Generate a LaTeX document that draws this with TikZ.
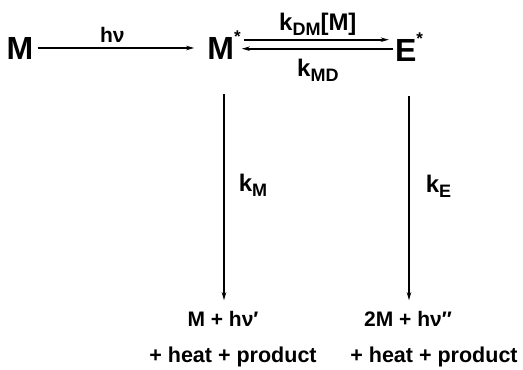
\documentclass[tikz,border=0pt]{standalone}
\usepackage{fontspec}
\setmainfont{Liberation Sans}
\usepackage{tikz}
\usetikzlibrary{arrows.meta,positioning}
\newcommand{\exc}{\raisebox{1.0ex}{\fontsize{17}{17}\selectfont *}}
\newcommand{\sub}[1]{\raisebox{-0.35ex}{\fontsize{18}{18}\selectfont #1}}

\begin{document}
\begin{tikzpicture}[x=1pt,y=-1pt,
  species/.style={font=\fontsize{32}{34}\selectfont\bfseries,anchor=base,inner sep=2pt},
  rate/.style={font=\fontsize{24}{26}\selectfont\bfseries,inner sep=2pt},
  prod/.style={font=\fontsize{21}{23}\selectfont\bfseries,inner sep=2pt},
  rx/.style={-{Stealth[length=8pt,width=4.5pt]},line width=1.6pt}]
\useasboundingbox (0,0) rectangle (523,370);
% --- excitation and excimer equilibrium ---
\node[species] (m)  at (20,59)  {M};
\node[species] (ms) at (224,59) {M\exc};
\node[species] (es) at (409,61) {E\exc};
\draw[rx,shorten <=2pt,shorten >=11pt] (m.east) --
  node[rate,above=3pt,xshift=-8pt,font=\fontsize{21}{22}\selectfont\bfseries] (hv) {hν} (m.east -| ms.west);
\draw[rx,shorten <=1pt,shorten >=4pt] ([yshift=5pt]ms.east) --
  node[rate,above=1pt] (kdm) {k\sub{DM}[M]} ([yshift=5pt]ms.east -| es.west);
\draw[rx,shorten >=-1pt] ([yshift=-4pt]ms.east -| es.west) --
  node[rate,below=8pt] (kmd) {k\sub{MD}} ([yshift=-4pt]ms.east);
% --- decay channels ---
\node[prod] (pm) at (223,319) {M + hν′};
\node[prod] (pe) at (408,319) {2M + hν″};
\node[prod,font=\fontsize{21.5}{23}\selectfont\bfseries] (hm) at (233,357) {+ heat + product};
\node[prod,font=\fontsize{21.5}{23}\selectfont\bfseries] (he) at (434,357) {+ heat + product};
\draw[rx,shorten <=33pt,shorten >=9pt] (ms.south) --
  node[rate,right=12pt] (km) {k\sub{M}} (ms.south |- pm.north);
\draw[rx,shorten <=33pt,shorten >=9pt] (es.south) --
  node[rate,right=14pt] (ke) {k\sub{E}} (es.south |- pe.north);
\end{tikzpicture}
\end{document}
